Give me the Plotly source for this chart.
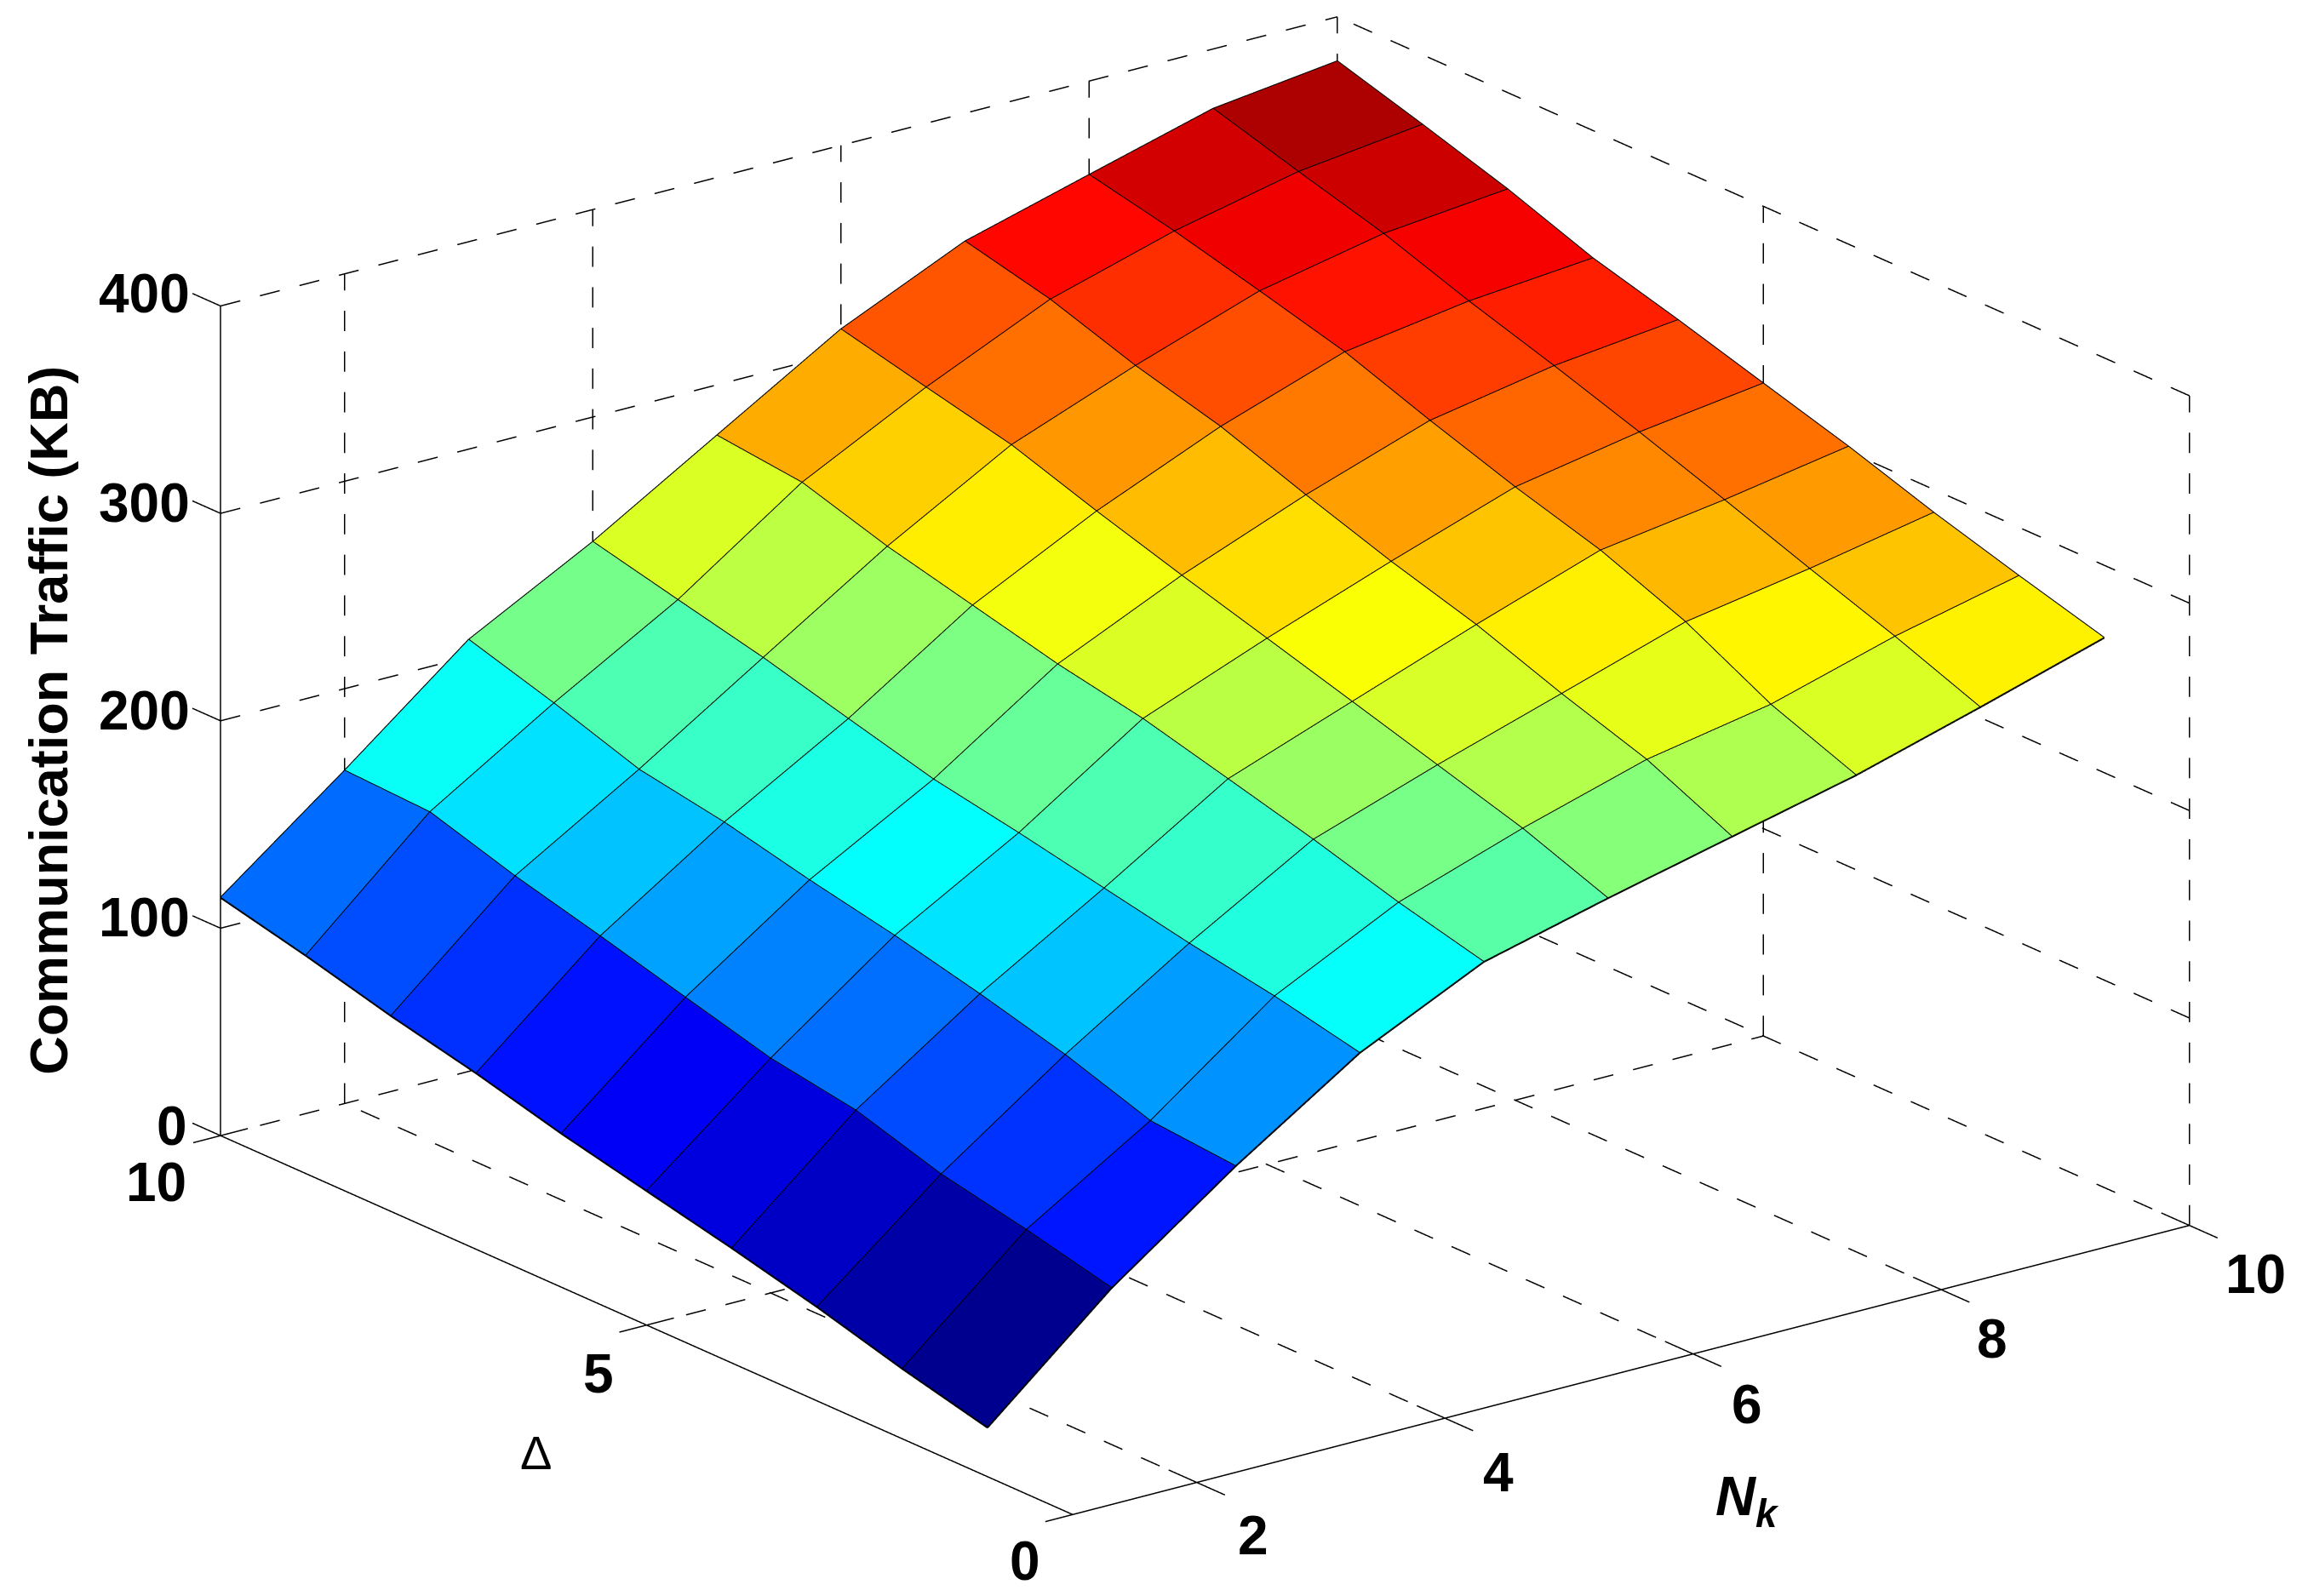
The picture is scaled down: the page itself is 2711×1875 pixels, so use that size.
import plotly.graph_objects as go

# Data
nk_values = [1, 2, 3, 4, 5, 6, 7, 8, 9, 10]
delta_values = [1, 2, 3, 4, 5, 6, 7, 8, 9, 10]
# one row per Nk, values ordered by delta 1..10
traffic_nk1 = [23.6, 33.7, 45.2, 55.3, 64.6, 74.0, 84.8, 94.2, 105.0, 114.7]
traffic_nk2 = [75.4, 85.2, 93.7, 106.2, 113.0, 124.1, 135.4, 146.1, 158.7, 160.5]
traffic_nk3 = [118.7, 122.2, 135.8, 146.8, 156.7, 165.2, 174.8, 182.0, 195.7, 208.1]
traffic_nk4 = [157.8, 166.8, 174.0, 182.3, 190.7, 198.3, 209.2, 220.4, 230.0, 239.8]
traffic_nk5 = [186.2, 196.5, 208.6, 219.5, 230.3, 238.3, 248.4, 258.5, 271.1, 275.6]
traffic_nk6 = [201.4, 216.7, 229.0, 241.3, 253.5, 265.6, 278.3, 292.0, 301.5, 311.3]
traffic_nk7 = [215.6, 234.4, 247.9, 262.9, 275.1, 288.9, 303.6, 314.7, 328.4, 338.2]
traffic_nk8 = [229.7, 245.5, 267.0, 283.3, 295.5, 309.3, 324.1, 335.2, 345.8, 354.8]
traffic_nk9 = [247.0, 262.8, 277.2, 292.1, 306.5, 320.2, 333.1, 347.4, 359.0, 371.2]
traffic_nk10 = [265.0, 276.6, 288.8, 302.4, 314.6, 326.9, 338.4, 353.4, 366.3, 378.6]
traffic = [traffic_nk1, traffic_nk2, traffic_nk3, traffic_nk4, traffic_nk5,
           traffic_nk6, traffic_nk7, traffic_nk8, traffic_nk9, traffic_nk10]

nk_ticks = [2, 4, 6, 8, 10]
delta_ticks = [0, 5, 10]
z_ticks = [0, 100, 200, 300, 400]

X_MIN, X_MAX = 1, 10
Y_MIN, Y_MAX = 0, 10
Z_MIN, Z_MAX = 0, 400
TX, TY = 0.22, 0.33   # tick half lengths in data units
# padding of the scene so nothing lies exactly on a clipping plane
PX, PY, PZ = 0.1, 0.1, 4
# length of one dash + gap along each axis, in data units
DASH_X, DASH_Y, DASH_Z = 0.318, 0.436, 19.6

JET = [[0, "#00008F"], [0.125, "#0000FF"], [0.375, "#00FFFF"],
       [0.625, "#FFFF00"], [0.875, "#FF0000"], [1, "#800000"]]
FONT = "Liberation Sans"

# surface as a mesh with one flat colour per grid cell
n, m = len(nk_values), len(delta_values)
vx, vy, vz, ti, tj, tk, cell = [], [], [], [], [], [], []
for a in range(n):
    for b in range(m):
        vx.append(nk_values[a]); vy.append(delta_values[b]); vz.append(traffic[a][b])
for a in range(n - 1):
    for b in range(m - 1):
        p0 = a * m + b; p1 = (a + 1) * m + b; p2 = (a + 1) * m + b + 1; p3 = a * m + b + 1
        ti += [p0, p0]; tj += [p1, p2]; tk += [p2, p3]
        cell += [traffic[a][b], traffic[a][b]]

fig = go.Figure()
fig.add_trace(go.Mesh3d(
    x=vx, y=vy, z=vz, i=ti, j=tj, k=tk,
    intensity=cell, intensitymode="cell", colorscale=JET, cmin=23.6, cmax=375,
    showscale=False, flatshading=True, hoverinfo="skip",
    lighting=dict(ambient=1, diffuse=0, specular=0, roughness=1, fresnel=0),
))


def lines(segments, width):
    xs, ys, zs = [], [], []
    for s in segments:
        for p in s:
            xs.append(p[0]); ys.append(p[1]); zs.append(p[2])
        xs.append(None); ys.append(None); zs.append(None)
    fig.add_trace(go.Scatter3d(x=xs, y=ys, z=zs, mode="lines", hoverinfo="skip",
                               showlegend=False,
                               line=dict(color="black", width=width)))


def dashed(p, q):
    """Cut an axis-parallel grid line into dashes of a fixed length on screen."""
    periods = [DASH_X, DASH_Y, DASH_Z]
    axis = [i for i in range(3) if p[i] != q[i]][0]
    out, t = [], p[axis]
    while t < q[axis]:
        a = list(p); b = list(p)
        a[axis] = t
        b[axis] = min(t + periods[axis] / 2, q[axis])
        out.append([tuple(a), tuple(b)])
        t += periods[axis]
    return out


# surface edges
edge = []
for a in range(n):
    edge.append([(nk_values[a], delta_values[b], traffic[a][b]) for b in range(m)])
for b in range(m):
    edge.append([(nk_values[a], delta_values[b], traffic[a][b]) for a in range(n)])
lines(edge, 4)

# dashed grid on the two back walls and the floor
grid = []
for t in nk_ticks:
    grid += dashed((t, Y_MIN, Z_MIN), (t, Y_MAX, Z_MIN))
    grid += dashed((t, Y_MAX, Z_MIN), (t, Y_MAX, Z_MAX))
for t in delta_ticks:
    if t != Y_MIN:
        grid += dashed((X_MIN, t, Z_MIN), (X_MAX, t, Z_MIN))
    grid += dashed((X_MAX, t, Z_MIN), (X_MAX, t, Z_MAX))
for t in z_ticks:
    grid += dashed((X_MIN, Y_MAX, t), (X_MAX, Y_MAX, t))
    grid += dashed((X_MAX, Y_MIN, t), (X_MAX, Y_MAX, t))
lines(grid, 3)

# solid axes and tick marks
solid = [
    [(X_MIN, Y_MIN, Z_MIN), (X_MAX, Y_MIN, Z_MIN)],
    [(X_MIN, Y_MIN, Z_MIN), (X_MIN, Y_MAX, Z_MIN)],
    [(X_MIN, Y_MAX, Z_MIN), (X_MIN, Y_MAX, Z_MAX)],
]
for t in nk_ticks:
    solid.append([(t, Y_MIN - TY, Z_MIN), (t, Y_MIN + TY, Z_MIN)])
for t in delta_ticks:
    solid.append([(X_MIN - TX, t, Z_MIN), (X_MIN + TX, t, Z_MIN)])
for t in z_ticks:
    solid.append([(X_MIN, Y_MAX, t), (X_MIN, Y_MAX + TY, t)])
lines(solid, 3)

tick_font = dict(family=FONT, size=64, color="black", weight="bold")
ann = []


def label(x, y, z, text, dx, dy, font=tick_font, angle=0):
    ann.append(dict(x=x, y=y, z=z, text=text, showarrow=False, xshift=dx, yshift=dy,
                    font=font, textangle=angle, xanchor="center", yanchor="middle"))


for t, dx, dy in zip(z_ticks, [-57, -90, -90, -90, -90], [11, 12, 12, 12, 14]):
    label(X_MIN, Y_MAX, t, str(t), dx, dy)
for t, dx, dy in zip(delta_ticks, [-56, -57, -76], [-55, -57, -55]):
    label(X_MIN, t, Z_MIN, str(t), dx, dy)
for t, dx, dy in zip(nk_ticks, [66, 63, 63, 60, 78], [-62, -64, -59, -58, -57]):
    label(t, Y_MIN, Z_MIN, str(t), dx, dy)
label(X_MIN, Y_MAX, 200, "Communication Traffic (KB)", -202, 0,
      font=dict(family=FONT, size=63, color="black", weight="bold"), angle=-90)
label(X_MIN, 5, Z_MIN, "Δ", -130, -150, font=dict(family=FONT, size=56, color="black"))
label(6, Y_MIN, Z_MIN, "<b><i>N<sub>k</sub></i></b>", 64, -172,
      font=dict(family=FONT, size=65, color="black"))

hidden = dict(showgrid=False, zeroline=False, showline=False, showticklabels=False,
              showbackground=False, ticks="", title="", showspikes=False, autorange=False)

D = 1.5
K = 1.76
CX, CY, CZ = -0.0304, 0.0232, -0.0474
xr = [X_MIN - TX - PX, X_MAX + PX]
yr = [Y_MIN - TY - PY, Y_MAX + TY + PY]
zr = [Z_MIN - PZ, Z_MAX + PZ]
fig.update_layout(
    width=2711, height=1875, margin=dict(l=0, r=0, t=0, b=0), showlegend=False,
    paper_bgcolor="white",
    scene=dict(
        domain=dict(x=[0, 1], y=[0, 1]),
        xaxis=dict(hidden, range=xr),
        yaxis=dict(hidden, range=yr),
        zaxis=dict(hidden, range=zr),
        aspectmode="manual",
        aspectratio=dict(x=K * (xr[1] - xr[0]) / 9, y=K * (yr[1] - yr[0]) / 10,
                         z=K * 0.628 * (zr[1] - zr[0]) / 400),
        camera=dict(projection=dict(type="orthographic"),
                    up=dict(x=0, y=0, z=1),
                    center=dict(x=CX, y=CY, z=CZ),
                    eye=dict(x=CX - 0.570 * D, y=CY - 0.747 * D, z=CZ + 0.339 * D)),
        annotations=ann,
    ),
)
fig.write_html("out.html")
